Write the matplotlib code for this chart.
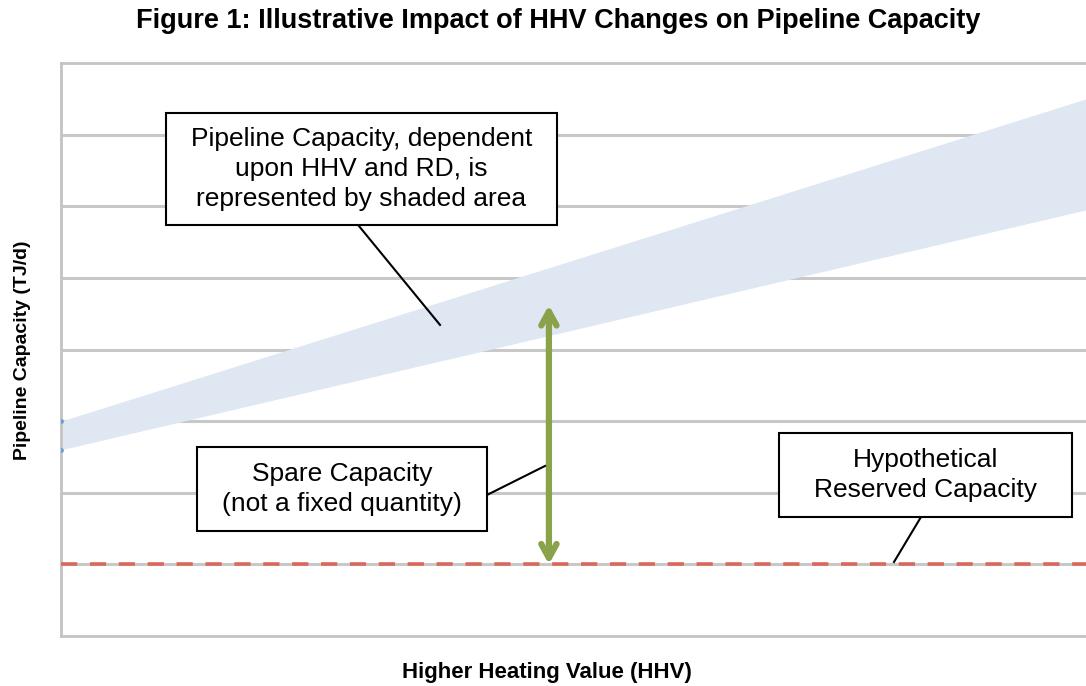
"""Illustrative impact of HHV changes on pipeline capacity"""
import matplotlib.pyplot as plt
from matplotlib.patches import Rectangle

plt.rcParams['font.family'] = ['Liberation Sans', 'DejaVu Sans']

# band of pipeline capacity (upper / lower edge) across the HHV range
hhv       = [0.0, 1.0]
cap_upper = [3.0, 7.5]
cap_lower = [2.6, 5.95]
reserved  = 1.0
spare_x   = 0.476
spare_top = 4.62
grid_y    = [1, 2, 3, 4, 5, 6, 7]

fig = plt.figure(figsize=(10.86, 6.86), dpi=100)
ax = fig.add_axes([0.0562, 0.0729, 0.9438, 0.8352])
ax.set_xlim(0, 1)
ax.set_ylim(0, 8)

for g in grid_y:
    ax.axhline(g, color='#c8c8c8', lw=2.2, zorder=1)

ax.fill_between(hhv, cap_lower, cap_upper, color='#dfe7f2', lw=0, zorder=2)
ax.plot([0, 0], [cap_upper[0], cap_lower[0]], 'o', ms=2.5, color='#6fa0dc', zorder=3)

ax.axhline(reserved, color='#d9695c', lw=2.6, ls=(0, (4.5, 3.5)), zorder=3)

ax.annotate('', xy=(spare_x, spare_top), xytext=(spare_x, reserved),
            arrowprops=dict(arrowstyle='<->,head_length=1.0,head_width=0.55',
                            color='#8aa34a', lw=4.5, shrinkA=0, shrinkB=0),
            zorder=4)

ax.spines['right'].set_visible(False)
for s in ['left', 'top', 'bottom']:
    ax.spines[s].set_color('#c3c3c3')
    ax.spines[s].set_linewidth(2)
ax.set_xticks([])
ax.set_yticks([])


def px(x, y):
    return (x - 61) / 1025, (636 - y) / 71.6


def callout(x0, y0, x1, y1, text, tip, base):
    a = px(x0, y1)
    b = px(x1, y0)
    ax.add_patch(Rectangle(a, b[0] - a[0], b[1] - a[1], fc='white', ec='black',
                           lw=1.5, zorder=6))
    c = px((x0 + x1) / 2, (y0 + y1) / 2)
    ax.text(c[0], c[1], text, ha='center', va='center', fontsize=19,
            linespacing=1.3, zorder=7)
    p, q = px(*base), px(*tip)
    ax.plot([p[0], q[0]], [p[1], q[1]], color='black', lw=1.5, zorder=5)


callout(166, 113, 557, 225,
        'Pipeline Capacity, dependent\nupon HHV and RD, is\nrepresented by shaded area',
        (440, 325), (358, 225))
callout(197, 447, 487, 531, 'Spare Capacity\n(not a fixed quantity)',
        (545, 466), (487, 495))
callout(779, 433, 1072, 517, 'Hypothetical\nReserved Capacity',
        (894, 562), (921, 517))

fig.text(0.514, 0.969, 'Figure 1: Illustrative Impact of HHV Changes on Pipeline Capacity',
         ha='center', va='center', fontsize=19.5, fontweight='bold')
fig.text(0.504, 0.019, 'Higher Heating Value (HHV)', ha='center', va='center',
         fontsize=16, fontweight='bold')
fig.text(0.021, 0.49, 'Pipeline Capacity (TJ/d)', ha='center', va='center',
         rotation=90, fontsize=14, fontweight='bold')

fig.savefig('out.png', dpi=100)
